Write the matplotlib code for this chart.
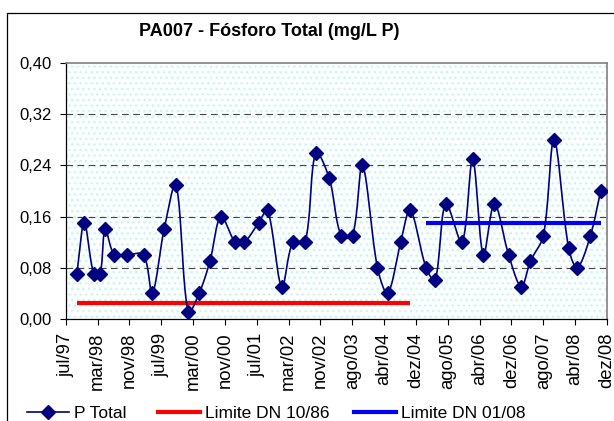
import numpy as np
import matplotlib
matplotlib.use("Agg")
import matplotlib.pyplot as plt
from matplotlib.patches import Rectangle
from matplotlib.lines import Line2D

plt.rcParams['font.family'] = ['Liberation Sans', 'DejaVu Sans']

# Sample dates as months elapsed since jul/97
meses = [2.8, 4.7, 7.1, 8.7, 10.0, 12.3, 15.5, 19.7, 21.9, 24.9, 27.9, 31.0,
         33.8, 36.5, 39.3, 42.9, 45.2, 48.8, 51.1, 54.7, 57.5, 60.6, 63.3,
         66.7, 69.7, 72.6, 75.1, 78.9, 81.5, 84.8, 87.2, 91.2, 93.5, 96.2,
         100.3, 103.0, 105.7, 108.5, 112.1, 115.3, 117.6, 120.9, 123.6,
         127.3, 129.5, 132.8, 135.4]
p_total = [0.07, 0.15, 0.07, 0.07, 0.14, 0.10, 0.10, 0.10, 0.04, 0.14, 0.21,
           0.01, 0.04, 0.09, 0.16, 0.12, 0.12, 0.15, 0.17, 0.05, 0.12, 0.12,
           0.26, 0.22, 0.13, 0.13, 0.24, 0.08, 0.04, 0.12, 0.17, 0.08, 0.06,
           0.18, 0.12, 0.25, 0.10, 0.18, 0.10, 0.05, 0.09, 0.13, 0.28, 0.11,
           0.08, 0.13, 0.20]
# Limits: DN 10/86 applies up to the 31st sample, DN 01/08 afterwards
limite_1086 = 0.025
limite_0108 = 0.15
n_1086 = 31

rotulos_x = ['jul/97', 'mar/98', 'nov/98', 'jul/99', 'mar/00', 'nov/00',
             'jul/01', 'mar/02', 'nov/02', 'ago/03', 'abr/04', 'dez/04',
             'ago/05', 'abr/06', 'dez/06', 'ago/07', 'abr/08', 'dez/08']
meses_total = 137
y_ticks = [0.00, 0.08, 0.16, 0.24, 0.32, 0.40]


def suavizar(x, y, sx, sy, passos=20):
    """Smooth Bezier curve through the points (length-weighted tangents,
    computed in a scaled space so short segments do not loop)."""
    P = np.column_stack([np.asarray(x) * sx, np.asarray(y) * sy])
    n = len(P)
    pts = []
    for i in range(n - 1):
        p0 = P[i - 1] if i > 0 else P[i]
        p1, p2 = P[i], P[i + 1]
        p3 = P[i + 2] if i + 2 < n else P[i + 1]
        l01 = np.hypot(*(p1 - p0))
        l12 = np.hypot(*(p2 - p1))
        l23 = np.hypot(*(p3 - p2))
        c1 = p1 + (p2 - p0) * l12 / max(l01 + l12, 1e-9) / 3.0
        c2 = p2 - (p3 - p1) * l12 / max(l12 + l23, 1e-9) / 3.0
        t = np.linspace(0, 1, passos, endpoint=(i == n - 2))[:, None]
        seg = ((1 - t) ** 3) * p1 + 3 * ((1 - t) ** 2) * t * c1 \
            + 3 * (1 - t) * t ** 2 * c2 + t ** 3 * p2
        pts.append(seg)
    pts = np.vstack(pts)
    return pts[:, 0] / sx, pts[:, 1] / sy


W, H = 614, 421
fig = plt.figure(figsize=(W / 100, H / 100), dpi=100)
fig.patch.set_facecolor('white')

# outer chart frame
fig.patches.append(Rectangle((7 / W, -0.1), 1.2, 1 - 13 / H + 0.1,
                             transform=fig.transFigure, fill=False,
                             edgecolor='black', linewidth=0.9))

ax = fig.add_axes([65.7 / W, 1 - 318.7 / H, (607 - 65.7) / W, (318.7 - 63.3) / H])
ax.set_facecolor('white')
ax.add_patch(Rectangle((0, 0), 1, 1, transform=ax.transAxes, fill=False,
                       hatch='...', edgecolor='#c4f7f7', linewidth=0, zorder=0))

ax.set_xlim(0, meses_total)
ax.set_ylim(0, 0.40)

# smoothed series line with diamond markers
sx = (607 - 65.7) / meses_total
sy = (318.7 - 63.3) / 0.40
xs, ys = suavizar(meses, p_total, sx, sy)
ax.plot(xs, ys, color='#000080', linewidth=1.2, zorder=4)
ax.plot(meses, p_total, linestyle='none', marker='D', markersize=7.3,
        color='#000080', zorder=5)

ax.plot(meses[:n_1086], [limite_1086] * n_1086, color='#ff0000',
        linewidth=3, solid_capstyle='butt', zorder=3)
n_0108 = len(meses) - n_1086
ax.plot(meses[n_1086:], [limite_0108] * n_0108, color='#0000ff',
        linewidth=3, solid_capstyle='butt', zorder=3)

for v in y_ticks[1:-1]:
    ax.axhline(v, color='#444444', linewidth=0.8, dashes=(6, 4), zorder=1)

ax.set_yticks(y_ticks)
ax.set_yticklabels([f'{v:.2f}'.replace('.', ',') for v in y_ticks], fontsize=12)
ax.set_xticks(np.linspace(0, meses_total, len(rotulos_x)))
ax.set_xticklabels(rotulos_x, rotation=90, fontsize=13.3)
ax.tick_params(axis='both', direction='out', length=4, width=0.8, color='black')
ax.tick_params(axis='y', pad=6)
ax.tick_params(axis='x', pad=6)

for s in ['left', 'bottom']:
    ax.spines[s].set_color('black')
    ax.spines[s].set_linewidth(0.9)
for s in ['top', 'right']:
    ax.spines[s].set_color('#808080')
    ax.spines[s].set_linewidth(1.2)

fig.text(269 / W, 1 - 32 / H, 'PA007 - Fósforo Total (mg/L P)', fontsize=13,
         fontweight='bold', ha='center', va='center')

# legend entries, each placed along the bottom row
entradas = [
    (Line2D([], [], color='#000080', linewidth=1.2, marker='D', markersize=7.3),
     'P Total', 27),
    (Line2D([], [], color='#ff0000', linewidth=3), 'Limite DN 10/86', 158),
    (Line2D([], [], color='#0000ff', linewidth=3), 'Limite DN 01/08', 354),
]
for h, rotulo, x0 in entradas:
    leg = fig.legend([h], [rotulo], loc='center left',
                     bbox_to_anchor=(x0 / W, 1 - 413 / H), frameon=False,
                     fontsize=12.5, handlelength=2.4, handletextpad=0.3,
                     borderpad=0, borderaxespad=0)

fig.savefig('out.png', dpi=100)
